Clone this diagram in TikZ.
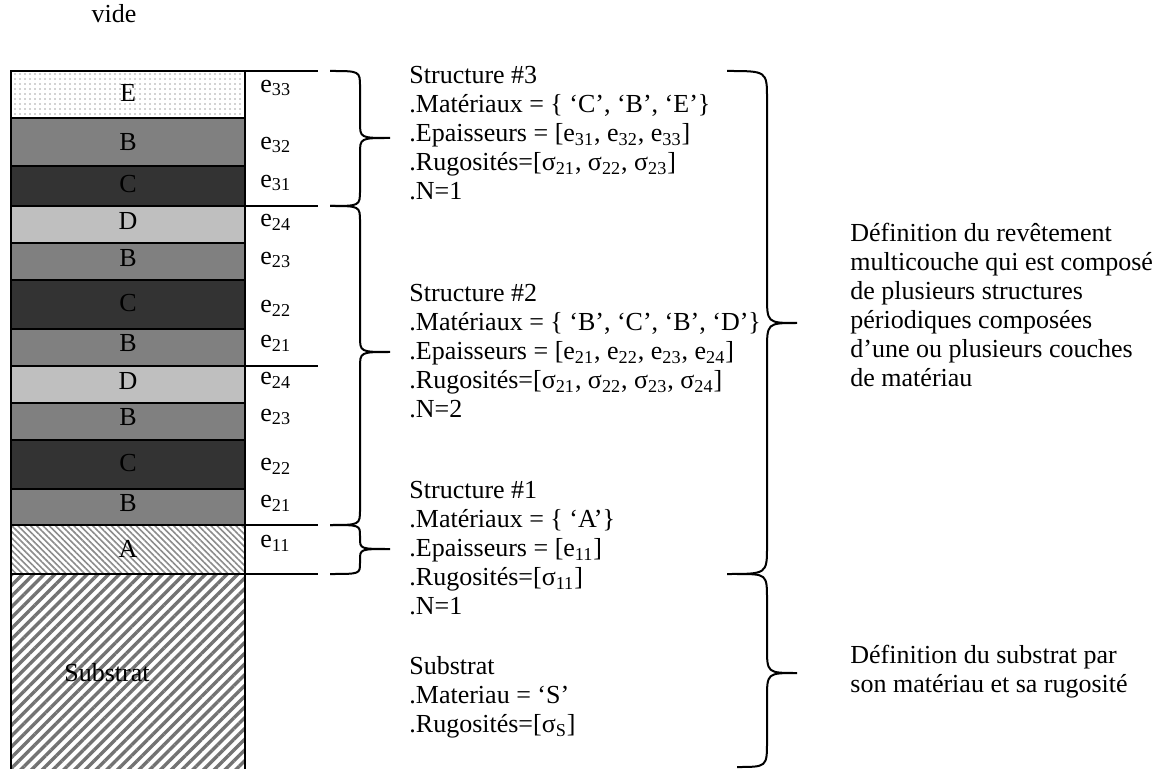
\documentclass[tikz,border=0pt]{standalone}
\usepackage{fontspec}
\setmainfont{Liberation Serif}
\usetikzlibrary{positioning,patterns.meta}
\definecolor{grisB}{gray}{0.50}
\definecolor{grisC}{gray}{0.20}
\definecolor{grisD}{gray}{0.75}
\newcommand{\ep}[1]{e\textsubscript{#1}}
\newcommand{\sg}[1]{σ\textsubscript{#1}}
\newcommand{\txt}{\fontsize{13}{14.5}\selectfont}
% accolade : x bout, x tige, x pointe, y haut, y pointe, y bas, rayon
\newcommand{\accolade}[7]{%
  \draw[acc] (#1,#4) .. controls (#2,#4) .. (#2,#4+#7) -- (#2,#5-#7)
    .. controls (#2,#5) .. (#3,#5) .. controls (#2,#5) .. (#2,#5+#7)
    -- (#2,#6-#7) .. controls (#2,#6) .. (#1,#6);}

\begin{document}
\begin{tikzpicture}[x=0.5pt,y=-0.5pt,
                    couche/.style={draw=black,line width=0.75pt},
                    trait/.style={line width=0.75pt},
                    acc/.style={line width=1pt},
                    lbl/.style={inner sep=0pt,font=\txt},
                    bloc/.style={lbl,anchor=north west,align=left}]
  \useasboundingbox[fill=white] (0,0) rectangle (1165,769);
  \clip (0,0) rectangle (1165,769);

  \node[lbl] (vide) at (114,14) {vide};

  % empilement des couches
  \draw[couche,pattern={Dots[distance=2.5pt,radius=0.45pt]},pattern color=black!35] (11,71) rectangle (245,118);
  \draw[couche,fill=grisB] (11,118) rectangle (245,166);
  \draw[couche,fill=grisC] (11,166) rectangle (245,206);
  \draw[couche,fill=grisD] (11,206) rectangle (245,243);
  \draw[couche,fill=grisB] (11,243) rectangle (245,280);
  \draw[couche,fill=grisC] (11,280) rectangle (245,329);
  \draw[couche,fill=grisB] (11,329) rectangle (245,366);
  \draw[couche,fill=grisD] (11,366) rectangle (245,403);
  \draw[couche,fill=grisB] (11,403) rectangle (245,440);
  \draw[couche,fill=grisC] (11,440) rectangle (245,489);
  \draw[couche,fill=grisB] (11,489) rectangle (245,525);
  \draw[couche,pattern={Lines[angle=-45,distance=2.2pt,line width=0.8pt]},pattern color=black!45] (11,525) rectangle (245,574);
  \draw[couche,pattern={Lines[angle=45,distance=3.8pt,line width=1.7pt]},pattern color=black!55] (11,574) rectangle (245,790);

  \node[lbl] (lE)  at (128,93)  {E};
  \node[lbl] (lB3) at (128,142) {B};
  \node[lbl] (lC3) at (128,184) {C};
  \node[lbl] (lD2) at (128,221) {D};
  \node[lbl] (lB2) at (128,258) {B};
  \node[lbl] (lC2) at (128,303) {C};
  \node[lbl] (lB1) at (128,343) {B};
  \node[lbl] (lD1) at (128,381) {D};
  \node[lbl] (lB0) at (128,417) {B};
  \node[lbl] (lC0) at (128,463) {C};
  \node[lbl] (lBa) at (128,503) {B};
  \node[lbl] (lA)  at (128,549) {A};
  \node[lbl] (lS)  at (107,673) {Substrat};

  % epaisseurs
  \node[lbl,anchor=west] (e33)  at (260,88)  {\ep{33}};
  \node[lbl,anchor=west] (e32)  at (260,145) {\ep{32}};
  \node[lbl,anchor=west] (e31)  at (260,183) {\ep{31}};
  \node[lbl,anchor=west] (e24b) at (260,222) {\ep{24}};
  \node[lbl,anchor=west] (e23b) at (260,260) {\ep{23}};
  \node[lbl,anchor=west] (e22b) at (260,308) {\ep{22}};
  \node[lbl,anchor=west] (e21b) at (260,343) {\ep{21}};
  \node[lbl,anchor=west] (e24a) at (260,380) {\ep{24}};
  \node[lbl,anchor=west] (e23a) at (260,417) {\ep{23}};
  \node[lbl,anchor=west] (e22a) at (260,466) {\ep{22}};
  \node[lbl,anchor=west] (e21a) at (260,503) {\ep{21}};
  \node[lbl,anchor=west] (e11)  at (260,543) {\ep{11}};

  \foreach \y in {71,206,366,525,574}
    \draw[trait] (245,\y) -- (318,\y);

  % accolades
  \accolade{330}{360}{390}{71}{138}{206}{16}
  \accolade{330}{360}{390}{206}{352}{525}{16}
  \accolade{330}{360}{390}{525}{549}{574}{11}
  \accolade{727}{767}{797}{71}{323}{574}{28}
  \accolade{737}{767}{797}{574}{673}{767}{26}

  % descriptions
  \node[bloc] (s3) at (409,66)  {Structure \#3\\.Matériaux = \{ ‘C’, ‘B’, ‘E’\}\\.Epaisseurs = [\ep{31}, \ep{32}, \ep{33}]\\.Rugosités=[\sg{21}, \sg{22}, \sg{23}]\\.N=1};
  \node[bloc] (s2) at (409,284) {Structure \#2\\.Matériaux = \{ ‘B’, ‘C’, ‘B’, ‘D’\}\\.Epaisseurs = [\ep{21}, \ep{22}, \ep{23}, \ep{24}]\\.Rugosités=[\sg{21}, \sg{22}, \sg{23}, \sg{24}]\\.N=2};
  \node[bloc] (s1) at (409,481) {Structure \#1\\.Matériaux = \{ ‘A’\}\\.Epaisseurs = [\ep{11}]\\.Rugosités=[\sg{11}]\\.N=1};
  \node[bloc] (sS) at (409,656) {Substrat\\.Materiau = ‘S’\\.Rugosités=[\sg{S}]};

  \node[bloc] (defR) at (850,223) {Définition du revêtement\\multicouche qui est composé\\de plusieurs structures\\périodiques composées\\d’une ou plusieurs couches\\de matériau};
  \node[bloc] (defS) at (850,645) {Définition du substrat par\\son matériau et sa rugosité};
\end{tikzpicture}
\end{document}
